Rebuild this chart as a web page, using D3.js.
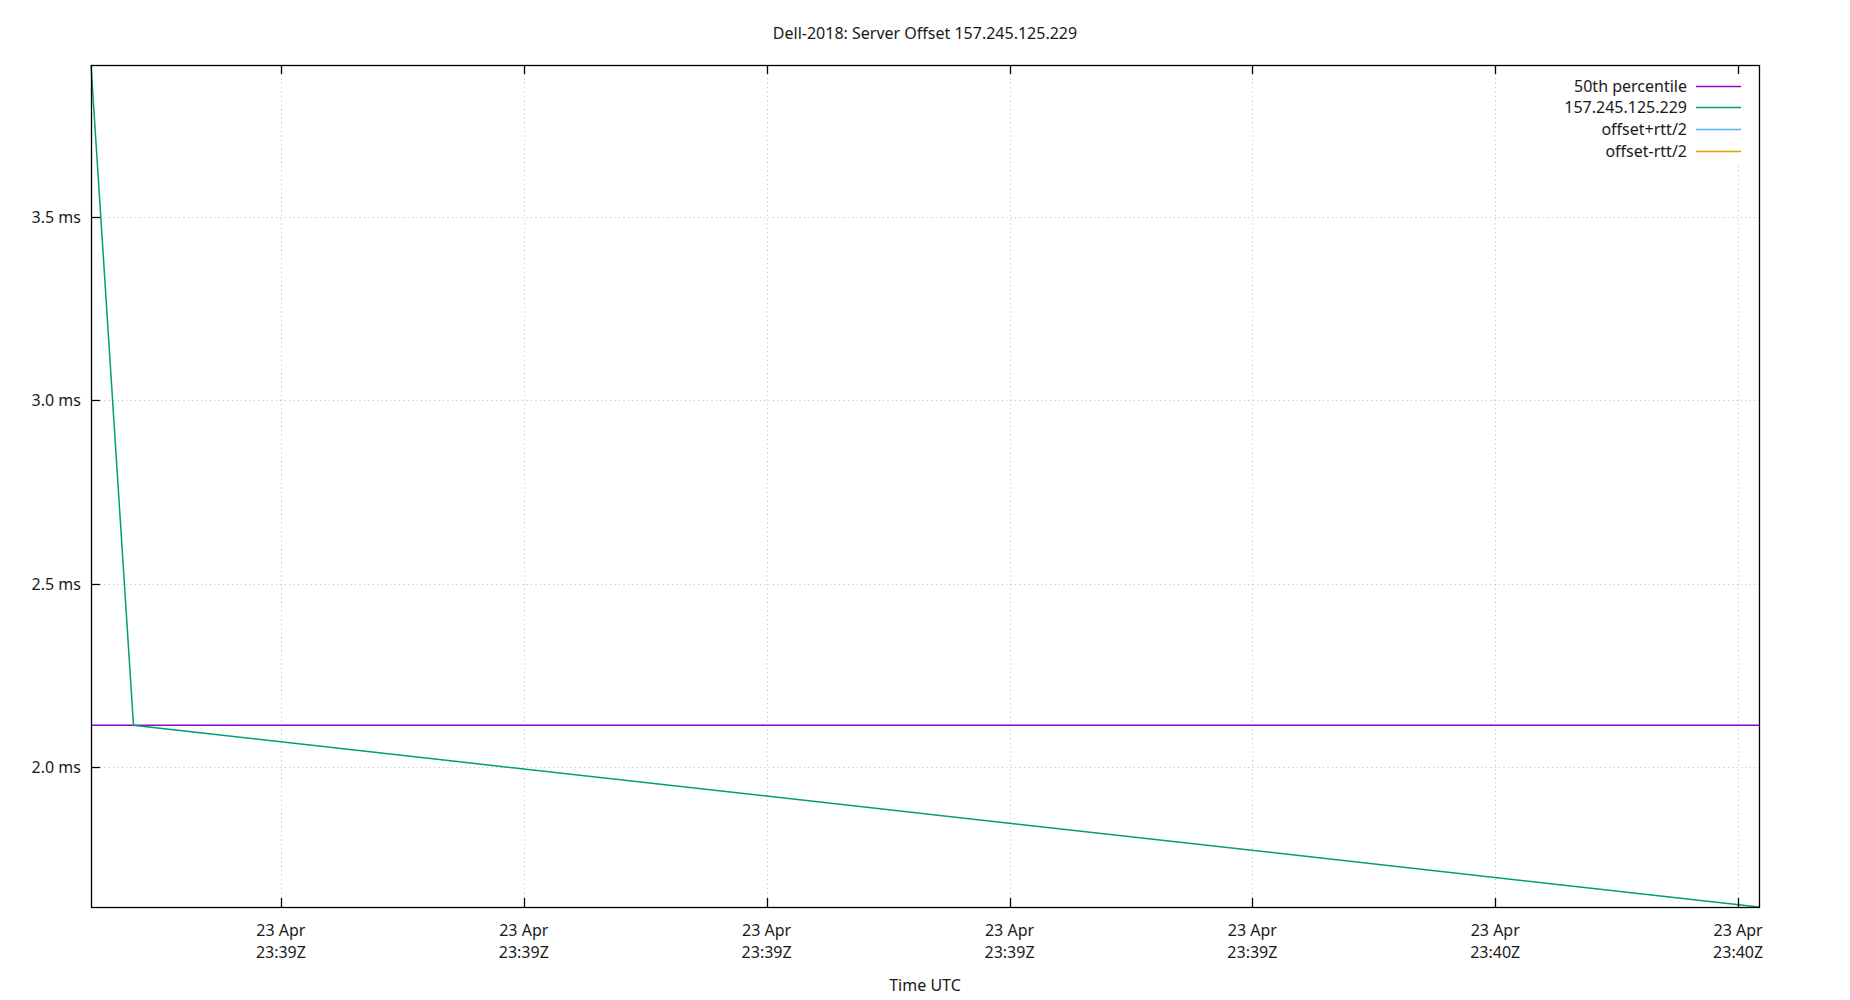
<!DOCTYPE html>
<html>
<head>
<meta charset="utf-8">
<script src="https://cdn.jsdelivr.net/npm/d3@7"></script>
<style>
  html, body { margin: 0; padding: 0; background: #fff; }
  svg { display: block; }
  text { font-family: "Noto Sans", "Open Sans", sans-serif; fill: #1a1a1a; }
</style>
</head>
<body>
<svg id="chart" width="1850" height="1000"></svg>
<script>
// ---- data ----
const chartTitle = "Dell-2018: Server Offset 157.245.125.229";
const xAxisTitle = "Time UTC";
const sampleTimes = ["2024-04-23T23:39:02.18Z", "2024-04-23T23:39:03.93Z", "2024-04-23T23:40:10.86Z"];
const offsetValues = [3.9145, 2.1135, 1.618];
const medianValue = 2.1135;
const yTickValues = [2.0, 2.5, 3.0, 3.5];
const legendNames = ["50th percentile", "157.245.125.229", "offset+rtt/2", "offset-rtt/2"];
const legendColors = ["#9400d3", "#009e73", "#56b4e9", "#e69f00"];

// ---- layout ----
const W = 1850, H = 1000;
const plot = { left: 91, right: 1759, top: 65, bottom: 907 };

const svg = d3.select("#chart");
const times = sampleTimes.map(s => new Date(s));
const points = times.map((t, i) => ({ t, v: offsetValues[i] }));

const x = d3.scaleUtc()
  .domain(d3.extent(times))
  .range([plot.left, plot.right]);
const y = d3.scaleLinear()
  .domain(d3.extent(offsetValues))
  .range([plot.bottom, plot.top]);

const xTicks = x.ticks(d3.utcSecond.every(10));
const fmtDay = d3.utcFormat("%d %b");
const fmtHM = d3.utcFormat("%H:%MZ");

// grid
const grid = svg.append("g").attr("stroke", "#c4c4c4").attr("stroke-width", 1)
  .attr("stroke-dasharray", "1.2,3.2");
grid.selectAll("line.gx").data(xTicks).enter().append("line")
  .attr("x1", d => Math.round(x(d)) + 0.5).attr("x2", d => Math.round(x(d)) + 0.5)
  .attr("y1", plot.top).attr("y2", plot.bottom);
grid.selectAll("line.gy").data(yTickValues).enter().append("line")
  .attr("x1", plot.left).attr("x2", plot.right)
  .attr("y1", d => Math.round(y(d)) + 0.5).attr("y2", d => Math.round(y(d)) + 0.5);

// legend background (hides grid behind legend)
svg.append("rect").attr("x", 1560).attr("y", plot.top + 1)
  .attr("width", 1755 - 1560).attr("height", 97).attr("fill", "#fff");

// series lines
const clip = svg.append("clipPath").attr("id", "clip").append("rect")
  .attr("x", plot.left).attr("y", plot.top)
  .attr("width", plot.right - plot.left).attr("height", plot.bottom - plot.top);

svg.append("line")
  .attr("clip-path", "url(#clip)")
  .attr("x1", plot.left).attr("x2", plot.right)
  .attr("y1", y(medianValue)).attr("y2", y(medianValue))
  .attr("stroke", legendColors[0]).attr("stroke-width", 1.5);

svg.append("path").datum(points)
  .attr("fill", "none")
  .attr("stroke", legendColors[1]).attr("stroke-width", 1.5)
  .attr("d", d3.line().x(d => x(d.t)).y(d => y(d.v)));

// border
svg.append("rect")
  .attr("x", plot.left + 0.5).attr("y", plot.top + 0.5)
  .attr("width", plot.right - plot.left).attr("height", plot.bottom - plot.top)
  .attr("fill", "none").attr("stroke", "#000").attr("stroke-width", 1.3);

// ticks
const tickLen = 9;
const tk = svg.append("g").attr("stroke", "#000").attr("stroke-width", 1.3);
xTicks.forEach(d => {
  const xx = Math.round(x(d)) + 0.5;
  tk.append("line").attr("x1", xx).attr("x2", xx).attr("y1", plot.bottom).attr("y2", plot.bottom - tickLen);
  tk.append("line").attr("x1", xx).attr("x2", xx).attr("y1", plot.top).attr("y2", plot.top + tickLen);
});
yTickValues.forEach(d => {
  const yy = Math.round(y(d)) + 0.5;
  tk.append("line").attr("x1", plot.left).attr("x2", plot.left + tickLen).attr("y1", yy).attr("y2", yy);
});

// tick labels
const fs = 16;
svg.selectAll("text.yl").data(yTickValues).enter().append("text")
  .attr("x", plot.left - 10).attr("y", d => y(d))
  .attr("text-anchor", "end").attr("dominant-baseline", "central")
  .attr("font-size", fs)
  .text(d => d3.format(".1f")(d) + " ms");

xTicks.forEach(d => {
  svg.append("text").attr("x", x(d)).attr("y", 930)
    .attr("text-anchor", "middle").attr("dominant-baseline", "central")
    .attr("font-size", fs).text(fmtDay(d));
  svg.append("text").attr("x", x(d)).attr("y", 952)
    .attr("text-anchor", "middle").attr("dominant-baseline", "central")
    .attr("font-size", fs).text(fmtHM(d));
});

// titles
svg.append("text").attr("x", (plot.left + plot.right) / 2).attr("y", 33)
  .attr("text-anchor", "middle").attr("dominant-baseline", "central")
  .attr("font-size", fs).text(chartTitle);
svg.append("text").attr("x", (plot.left + plot.right) / 2).attr("y", 985)
  .attr("text-anchor", "middle").attr("dominant-baseline", "central")
  .attr("font-size", fs).text(xAxisTitle);

// legend
const legendY0 = 85.5, legendDy = 21.7;
legendNames.forEach((name, i) => {
  const yy = legendY0 + i * legendDy;
  svg.append("text").attr("x", 1687).attr("y", yy)
    .attr("text-anchor", "end").attr("dominant-baseline", "central")
    .attr("font-size", fs).text(name);
  svg.append("line").attr("x1", 1696).attr("x2", 1741)
    .attr("y1", Math.round(yy) + 0.5).attr("y2", Math.round(yy) + 0.5)
    .attr("stroke", legendColors[i]).attr("stroke-width", 1.5);
});
</script>
</body>
</html>
